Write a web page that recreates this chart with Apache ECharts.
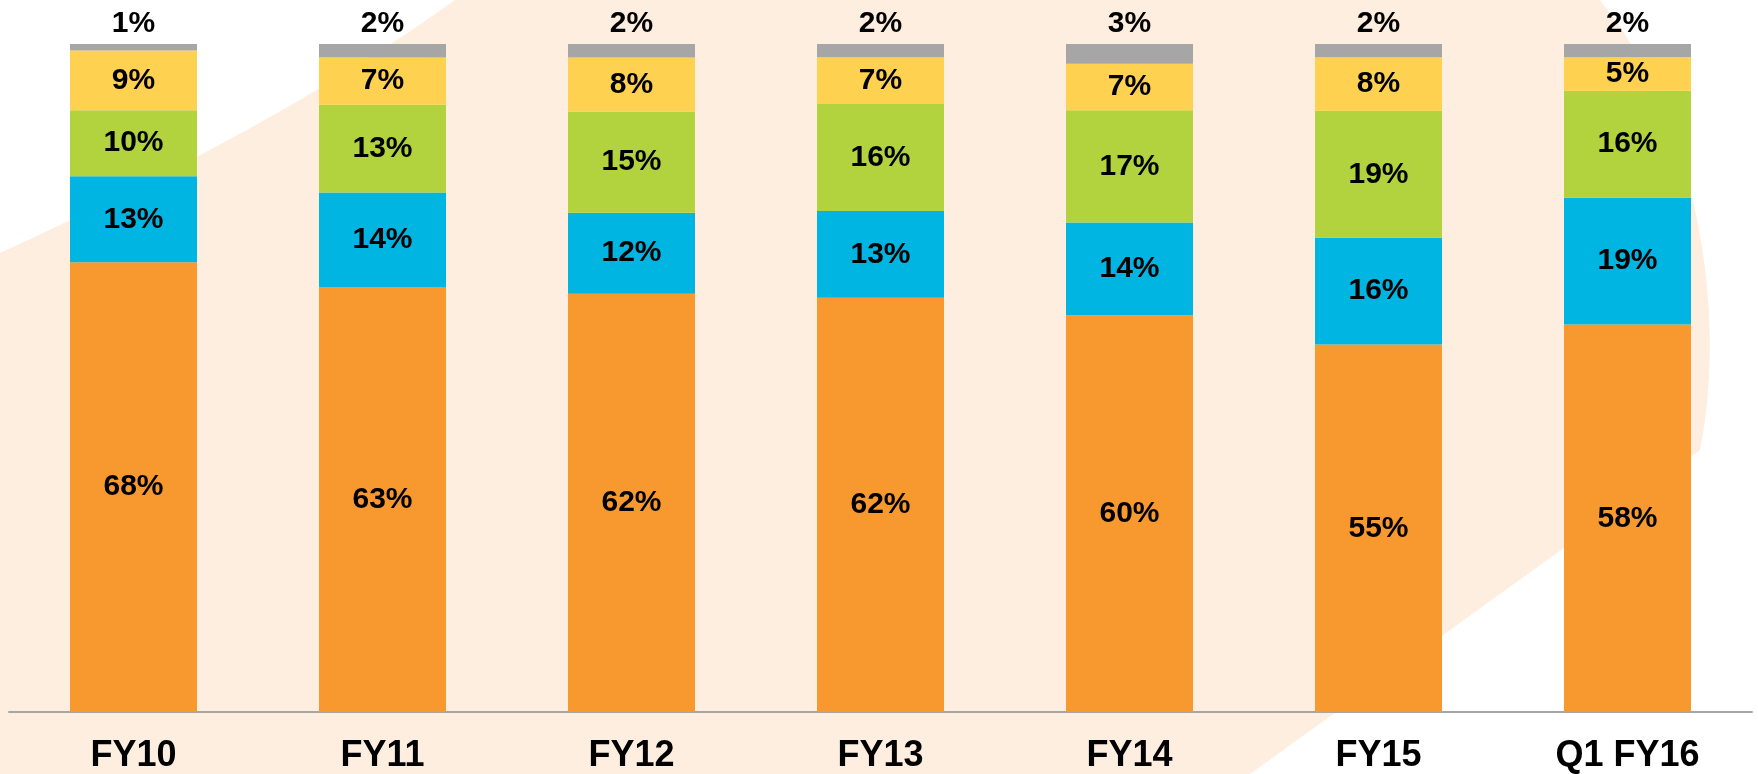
<!DOCTYPE html>
<html>
<head>
<meta charset="utf-8">
<script src="https://cdn.jsdelivr.net/npm/echarts@6/dist/echarts.min.js"></script>
<style>
  html, body { margin: 0; padding: 0; background: #fff; }
  #chart { width: 1758px; height: 774px; }
</style>
</head>
<body>
<div id="chart"></div>
<script>
// categories along the x axis
const categories = ["FY10", "FY11", "FY12", "FY13", "FY14", "FY15", "Q1 FY16"];

// printed shares per segment (bottom -> top)
const orangeVals = [68, 63, 62, 62, 60, 55, 58];
const blueVals = [13, 14, 12, 13, 14, 16, 19];
const greenVals = [10, 13, 15, 16, 17, 19, 16];
const yellowVals = [9, 7, 8, 7, 7, 8, 5];
const greyVals = [1, 2, 2, 2, 3, 2, 2];

const layers = [
  { name: "s1", data: orangeVals, color: "#F7992F" },
  { name: "s2", data: blueVals, color: "#00B5E2" },
  { name: "s3", data: greenVals, color: "#B2D33E" },
  { name: "s4", data: yellowVals, color: "#FFD150" },
  { name: "s5", data: greyVals, color: "#A6A6A6" }
];

// each column is drawn as a 100% stack
const totals = categories.map((c, i) => layers.reduce((s, l) => s + l.data[i], 0));

// backdrop outline: sample a cubic curve into points
function cubic(p0, p1, p2, p3, n) {
  const pts = [];
  for (let i = 0; i <= n; i++) {
    const t = i / n, u = 1 - t;
    pts.push([
      u * u * u * p0[0] + 3 * u * u * t * p1[0] + 3 * u * t * t * p2[0] + t * t * t * p3[0],
      u * u * u * p0[1] + 3 * u * u * t * p1[1] + 3 * u * t * t * p2[1] + t * t * t * p3[1]
    ]);
  }
  return pts;
}
const backdrop = [].concat(
  [[455, 0]],
  cubic([1600, 0], [1690, 110], [1730, 300], [1700, 450], 24),
  [[1250, 774], [0, 774]],
  cubic([0, 253], [180, 170], [330, 90], [455, 0], 16)
);

const chart = echarts.init(document.getElementById("chart"));

const series = layers.map((l, k) => {
  const isTop = k === layers.length - 1;
  return {
    name: l.name,
    type: "bar",
    stack: "total",
    barWidth: 127,
    data: l.data.map((v, i) => (v / totals[i]) * 100),
    itemStyle: { color: l.color },
    label: {
      show: true,
      position: isTop ? "top" : "inside",
      distance: 5,
      color: "#000",
      fontFamily: "Liberation Sans, Arial, sans-serif",
      fontWeight: "bold",
      fontSize: 30,
      formatter: p => l.data[p.dataIndex] + "%"
    }
  };
});

const option = {
  backgroundColor: "#ffffff",
  animation: false,
  graphic: [
    {
      type: "polygon",
      z: -10,
      silent: true,
      shape: { points: backdrop },
      style: { fill: "#FEEEE0" }
    }
  ],
  grid: { left: 9, right: 6, top: 44, bottom: 62 },
  xAxis: {
    type: "category",
    data: categories,
    axisLine: { lineStyle: { color: "#A6A6A6", width: 2 } },
    axisTick: { show: false },
    axisLabel: {
      margin: 26,
      color: "#000",
      fontFamily: "Liberation Sans, Arial, sans-serif",
      fontWeight: "bold",
      fontSize: 36
    }
  },
  yAxis: {
    type: "value",
    min: 0,
    max: 100,
    show: false,
    splitLine: { show: false }
  },
  series: series
};

chart.setOption(option);
</script>
</body>
</html>
